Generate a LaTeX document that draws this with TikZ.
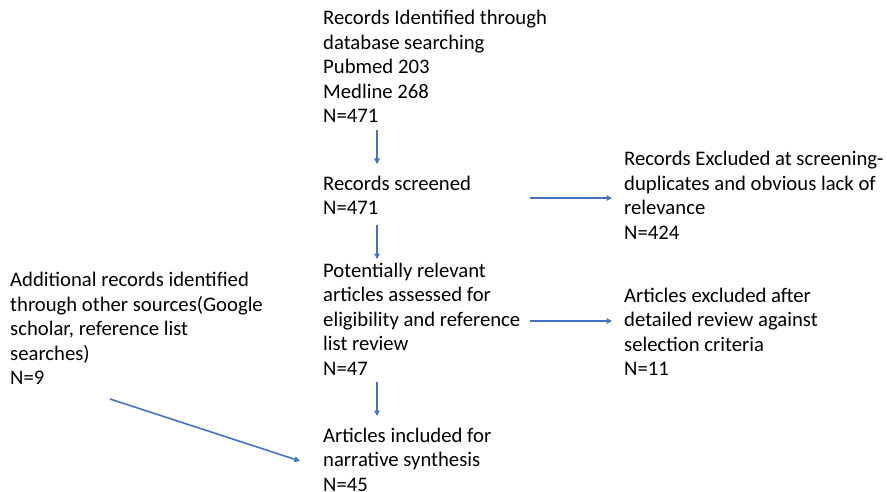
\documentclass[tikz,border=0pt]{standalone}
\usepackage{fontspec}
\setmainfont{Carlito}
\usetikzlibrary{arrows.meta}
\definecolor{arrblue}{HTML}{4472C4}
\tikzset{
  txt/.style={anchor=base west, inner sep=0pt, font=\fontsize{20.7}{24.5}\selectfont},
  arr/.style={draw=arrblue, line width=1.6pt, -{Triangle[length=5.5pt,width=5.5pt]}}
}
\newcommand{\blk}[1]{\begin{tabular}[t]{@{}l@{}}#1\end{tabular}}
\begin{document}
\begin{tikzpicture}[x=1pt,y=-1pt]
\useasboundingbox (0,0) rectangle (887,492);
\node[txt] (top) at (323,25) {\blk{Records Identified through\\database searching\\Pubmed 203\\Medline 268\\N=471}};
\node[txt] (scr) at (323,190) {\blk{Records screened\\N=471}};
\node[txt] (pot) at (323,277) {\blk{Potentially relevant\\articles assessed for\\eligibility and reference\\list review\\N=47}};
\node[txt] (inc) at (323,442) {\blk{Articles included for\\narrative synthesis\\N=45}};
\node[txt] (exc1) at (624,166) {\blk{Records Excluded at screening-\\duplicates and obvious lack of\\relevance\\N=424}};
\node[txt] (exc2) at (624,302) {\blk{Articles excluded after\\detailed review against\\selection criteria\\N=11}};
\node[txt] (add) at (10,287) {\blk{Additional records identified\\through other sources(Google\\scholar, reference list\\searches)\\N=9}};
\coordinate (a1s) at (377,130); \coordinate (a1e) at (377,164);
\coordinate (a2s) at (377,225); \coordinate (a2e) at (377,259);
\coordinate (a3s) at (377,382); \coordinate (a3e) at (377,416);
\coordinate (h1s) at (530,198); \coordinate (h1e) at (612,198);
\coordinate (h2s) at (530,321); \coordinate (h2e) at (612,321);
\coordinate (ds) at (110,399); \coordinate (de) at (300,461);
\draw[arr] (a1s) -- (a1e);
\draw[arr] (a2s) -- (a2e);
\draw[arr] (a3s) -- (a3e);
\draw[arr] (h1s) -- (h1e);
\draw[arr] (h2s) -- (h2e);
\draw[arr] (ds) -- (de);
\end{tikzpicture}
\end{document}
